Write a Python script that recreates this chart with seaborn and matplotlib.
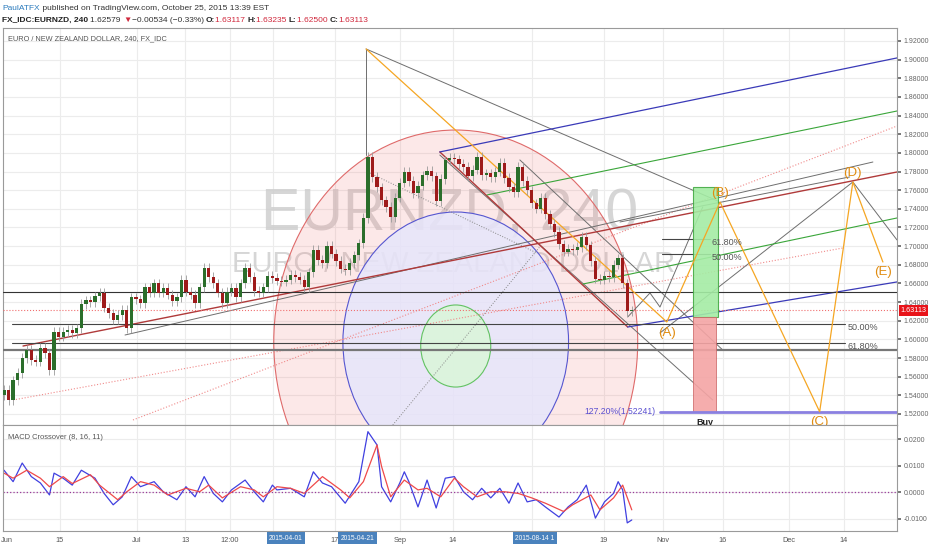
import numpy as np
import pandas as pd
import seaborn as sns
import matplotlib.pyplot as plt
from matplotlib.patches import Ellipse, Rectangle
import matplotlib.transforms as mtrans

# EURNZD 4h closes, one per bar (bar 0 = left edge)
closes = [1.546, 1.535, 1.556, 1.564, 1.580, 1.589, 1.578, 1.576, 1.591, 1.585,
          1.567, 1.608, 1.603, 1.608, 1.610, 1.607, 1.612, 1.638, 1.642, 1.640,
          1.646, 1.650, 1.634, 1.628, 1.621, 1.626, 1.632, 1.612, 1.645, 1.643,
          1.639, 1.656, 1.650, 1.660, 1.650, 1.655, 1.648, 1.641, 1.645, 1.664,
          1.651, 1.648, 1.639, 1.656, 1.677, 1.667, 1.660, 1.650, 1.639, 1.651,
          1.655, 1.645, 1.660, 1.677, 1.667, 1.652, 1.650, 1.656, 1.668, 1.666,
          1.663, 1.662, 1.664, 1.669, 1.667, 1.664, 1.656, 1.672, 1.696, 1.685,
          1.682, 1.700, 1.692, 1.684, 1.676, 1.674, 1.682, 1.690, 1.703, 1.730,
          1.796, 1.774, 1.763, 1.749, 1.742, 1.731, 1.752, 1.768, 1.780, 1.770,
          1.757, 1.765, 1.776, 1.781, 1.775, 1.748, 1.772, 1.792, 1.795, 1.793,
          1.788, 1.785, 1.775, 1.782, 1.796, 1.776, 1.778, 1.774, 1.780, 1.789,
          1.773, 1.763, 1.758, 1.785, 1.770, 1.760, 1.746, 1.740, 1.752, 1.734,
          1.724, 1.715, 1.702, 1.694, 1.697, 1.696, 1.699, 1.710, 1.701, 1.684,
          1.665, 1.664, 1.668, 1.667, 1.680, 1.687, 1.660, 1.630, 1.631]
first_open = 1.540
last_price = 1.63113

# MACD crossover (8, 16, 11)
macd_bar = [0, 2, 4, 6, 8, 10, 11, 13, 15, 17, 20, 22, 24, 26, 28, 30, 33, 35, 38, 40,
            42, 44, 46, 48, 50, 53, 55, 57, 59, 60, 63, 66, 68, 70, 72, 75, 78, 79, 80, 82,
            83, 85, 87, 88, 89, 91, 93, 95, 97, 99, 101, 103, 105, 107, 109, 111, 113, 115,
            117, 119, 122, 124, 126, 128, 130, 132, 134, 135, 136, 137, 138]
macd_val = [0.0083, 0.0040, 0.0110, 0.0059, 0.0035, -0.0010, 0.0072, 0.0053, 0.0027, 0.0083,
            0.0053, -0.0004, -0.0047, -0.0017, 0.0059, 0.0021, 0.0040, 0.0002, -0.0028, 0.0021,
            -0.0017, 0.0059, -0.0004, -0.0036, 0.0009, 0.0046, 0.0002, -0.0036, 0.0027, 0.0009,
            0.0015, -0.0017, 0.0077, 0.0035, 0.0021, -0.0041, 0.0040, 0.0134, 0.0228, 0.0178,
            0.0021, -0.0036, 0.0035, 0.0077, 0.0040, -0.0055, 0.0046, -0.0059, 0.0053, 0.0059,
            0.0002, -0.0028, 0.0015, -0.0021, 0.0015, -0.0041, 0.0035, -0.0036, -0.0028, -0.0055,
            -0.0093, -0.0055, -0.0028, 0.0027, -0.0097, -0.0036, -0.0004, 0.0040, 0.0009, -0.0115,
            -0.0104]
signal_bar = [0, 2, 5, 8, 10, 13, 15, 19, 21, 25, 27, 30, 33, 36, 40, 43, 45, 48, 52, 55,
              57, 60, 63, 66, 70, 74, 76, 79, 82, 83, 85, 88, 91, 93, 96, 99, 101, 104, 107,
              110, 113, 116, 119, 123, 125, 129, 131, 134, 136, 138]
signal_val = [0.0072, 0.0053, 0.0083, 0.0053, 0.0021, 0.0059, 0.0033, 0.0066, 0.0027, -0.0028,
              0.0002, 0.0040, 0.0027, -0.0010, 0.0015, 0.0002, 0.0027, -0.0021, 0.0021, 0.0009,
              -0.0017, 0.0021, 0.0015, -0.0004, 0.0059, 0.0009, -0.0021, 0.0040, 0.0178, 0.0097,
              -0.0017, 0.0046, 0.0009, 0.0015, -0.0017, 0.0053, 0.0021, -0.0017, 0.0002, 0.0002,
              -0.0004, -0.0021, -0.0041, -0.0072, -0.0047, -0.0010, -0.0066, -0.0021, 0.0027, -0.0066]

# time axis labels (bar positions)
tick_pos = [12.3, 29.2, 39.8, 49.7, 59.1, 72.7, 87.0, 98.7, 116.0, 131.9, 144.8, 158.0, 172.5, 184.6]
tick_lab = ['15', 'Jul', '13', '12:00', '', '17', 'Sep', '14', '', '19', 'Nov', '16', 'Dec', '14']
box_pos = [62.0, 77.7, 116.7]
box_lab = ['2015-04-01', '2015-04-21', '2015-08-14 1']

# drawings: (bar, price) anchor points
red_lines = [[(4.18, 1.5929), (196.3, 1.7795)], [(95.8, 1.8010), (137.1, 1.6133)]]
gray_lines = [[(26.6, 1.6047), (191.0, 1.7902)], [(135.4, 1.7259), (185.9, 1.7742)],
              [(95.8, 1.7977), (155.8, 1.5350)], [(113.4, 1.7924), (158.0, 1.5886)],
              [(79.6, 1.9114), (156.9, 1.7484)], [(79.6, 1.9114), (79.6, 1.7977)],
              [(144.2, 1.6069), (186.6, 1.7688), (196.3, 1.7066)],
              [(137.1, 1.6240), (142.0, 1.6498), (144.2, 1.6347), (153.6, 1.7420)]]
gray_dotted = [[(85.1, 1.5061), (117.8, 1.6994)], [(80.4, 1.7784), (117.1, 1.6927)]]
pink_dotted = [[(28.35, 1.5136), (196.3, 1.8288)], [(1.98, 1.5350), (184.4, 1.6980)]]
blue_lines = [[(95.8, 1.8010), (196.3, 1.9018)], [(137.1, 1.6133), (196.3, 1.6616)]]
green_lines = [[(106.2, 1.7549), (196.3, 1.8449)], [(127.3, 1.6594), (196.3, 1.7302)]]
wave_bar = [79.6, 145.7, 157.4, 179.3, 186.6, 193.2]
wave_price = [1.9114, 1.6187, 1.7473, 1.52241, 1.7688, 1.6830]
wave_lab = ['', '(A)', '(B)', '(C)', '(D)', '(E)']
wave_lab_dy = [0, -0.0120, 0.0100, -0.0115, 0.0100, -0.0105]

hlines_full = [1.6508]
hlines_fib = [1.6165, 1.5961]
fib_lab = ['50.00%', '61.80%']
fib_small = [1.7077, 1.6916]
fib_small_lab = ['61.80%', '50.00%']
target_price = 1.52241

# position tool (long): entry, stop, target
pos_bar = [151.4, 156.9]
pos_entry, pos_stop, pos_target = 1.6245, 1.52241, 1.7634

# circles: centre bar, centre price, half width (bars), half height (price)
circ_x = [99.3, 99.3, 99.3]
circ_y = [1.5972, 1.5972, 1.5929]
circ_rx = [40.0, 24.8, 7.7]
circ_ry = [0.2273, 0.1394, 0.0440]
circ_face = [(0.95, 0.45, 0.45, 0.16), (0.90, 0.90, 0.99, 0.85), (0.86, 0.96, 0.86, 0.92)]
circ_edge = ['#df6a6a', '#5656d0', '#62c262']

W, H = 932, 550
sns.set_theme(style='white')
plt.rcParams['font.family'] = ['Liberation Sans', 'DejaVu Sans']

fig = plt.figure(figsize=(W / 100, H / 100), dpi=100)
ax = fig.add_axes([3 / W, 125 / H, 894 / W, 397 / H])
ax2 = fig.add_axes([3 / W, 19 / H, 894 / W, 106 / H], sharex=ax)
XL = (-0.22, 196.3)

# candles
df = pd.DataFrame({'close': closes})
df['open'] = df['close'].shift(1).fillna(first_open)
df['top'] = df[['open', 'close']].max(axis=1)
df['bot'] = df[['open', 'close']].min(axis=1)
df['bar'] = np.arange(len(df))
up = df['close'] >= df['open']
ax.vlines(df['bar'], df['bot'] - 0.005, df['top'] + 0.005, color='#9a9a9a', lw=0.6, zorder=5)
ax.bar(df['bar'], (df['top'] - df['bot']).clip(lower=0.0010), bottom=df['bot'], width=0.72,
       color=np.where(up, '#2b6e2b', '#9e1b1b'), zorder=6, linewidth=0)

# watermark
ax.text(0.500, 0.491, 'EURNZD, 240', transform=ax.transAxes, fontsize=42.5, color='#cccccc',
        alpha=0.8, ha='center', va='baseline', zorder=1)
ax.text(0.504, 0.385, 'EURO / NEW ZEALAND DOLLAR', transform=ax.transAxes, fontsize=21,
        color='#cccccc', alpha=0.8, ha='center', va='baseline', zorder=1)

for cx, cy, rx, ry, fc, ec in zip(circ_x, circ_y, circ_rx, circ_ry, circ_face, circ_edge):
    ax.add_patch(Ellipse((cx, cy), 2 * rx, 2 * ry, facecolor=fc, edgecolor=ec, lw=0.8, zorder=2))


def draw(segs, **kw):
    for s in segs:
        xs, ys = zip(*s)
        ax.plot(xs, ys, zorder=3, **kw)


draw(pink_dotted, color='#f08a8a', lw=0.8, ls=':')
draw(gray_dotted, color='#888888', lw=0.7, ls=':')
draw(gray_lines, color='#6e6e6e', lw=0.7)
draw(red_lines, color='#b03a3a', lw=1.0)
draw(blue_lines, color='#3a3ab8', lw=0.9)
draw(green_lines, color='#3aa63a', lw=0.8)

for p in hlines_full:
    ax.axhline(p, color='#333333', lw=0.8, zorder=3)
ax.axhline(1.5886, color='#777777', lw=1.6, zorder=3)
ax.axhline(last_price, color='#f07070', lw=0.8, ls=':', zorder=3)
for p, lab in zip(hlines_fib, fib_lab):
    ax.plot([1.76, 184.8], [p, p], color='#444444', lw=0.8, zorder=3)
    ax.text(185.5, p - 0.0042, lab, fontsize=6.5, color='#555555', va='center', zorder=7)
for p, lab in zip(fib_small, fib_small_lab):
    ax.plot([144.6, 155.2], [p, p], color='#444444', lw=0.8, zorder=3)
    ax.text(155.6, p - 0.0035, lab, fontsize=6.5, color='#555555', va='center', zorder=7)

# position tool
ax.add_patch(Rectangle((pos_bar[0], pos_entry), pos_bar[1] - pos_bar[0], pos_target - pos_entry,
                       facecolor='#a4eca4', edgecolor='#44aa44', lw=0.8, zorder=4, alpha=0.9))
ax.add_patch(Rectangle((pos_bar[0], pos_stop), pos_bar[1] - pos_bar[0] - 0.4, pos_entry - 0.001 - pos_stop,
                       facecolor='#f4a4a4', edgecolor='#cc6666', lw=0.6, zorder=4, alpha=0.9))
ax.text(np.mean(pos_bar), 1.5105, 'Buy', fontsize=6.5, fontweight='bold', color='#222222',
        ha='center', va='center', zorder=8, clip_on=True)

# 127.2% target
ax.plot([144.2, XL[1]], [target_price, target_price], color='#8a80e0', lw=2, zorder=4)
ax.text(143.3, target_price, '127.20%(1.52241)', fontsize=6.2, color='#5a4fd0',
        ha='right', va='center', zorder=7)

# ABCDE wave
ax.plot(wave_bar, wave_price, color='#f5a623', lw=0.9, zorder=4)
for bx, py, lab, dy in zip(wave_bar, wave_price, wave_lab, wave_lab_dy):
    if lab:
        ax.text(bx, py + dy, lab, fontsize=9.5, color='#e08c10', ha='center', va='center',
                zorder=8, clip_on=True)

ax.set_xlim(*XL)
ax.set_ylim(1.5082, 1.9339)
ax.yaxis.tick_right()
ax.set_yticks(np.arange(1.52, 1.921, 0.02))
ax.set_yticklabels([f'{v:.5f}' for v in np.arange(1.52, 1.921, 0.02)])
ax.tick_params(axis='y', labelsize=5, colors='#666666', length=3, pad=2)
ax.tick_params(axis='x', labelbottom=False, length=0)
ax.grid(True, color='#ececec', lw=0.8)
for s in ax.spines.values():
    s.set_color('#9a9a9a')
    s.set_linewidth(0.8)
tr = mtrans.blended_transform_factory(ax.transAxes, ax.transData)
ax.text(1.004, last_price, '1.63113', transform=tr, fontsize=5.2, color='white', va='center',
        ha='left', bbox=dict(boxstyle='square,pad=0.25', fc='#e8141a', ec='none'), zorder=10,
        clip_on=False)
ax.text(0.006, 0.972, 'EURO / NEW ZEALAND DOLLAR, 240, FX_IDC', transform=ax.transAxes,
        fontsize=5.3, color='#555555', va='center')

# MACD panel
sns.lineplot(x=macd_bar, y=macd_val, ax=ax2, color='#4040e0', lw=0.9)
sns.lineplot(x=signal_bar, y=signal_val, ax=ax2, color='#ef4a4a', lw=0.9)
ax2.axhline(0, color='#9a3a9a', lw=0.9, ls=':')
ax2.set_ylim(-0.01455, 0.0253)
ax2.set_xlim(*XL)
ax2.yaxis.tick_right()
ax2.set_yticks([-0.01, 0.0, 0.01, 0.02])
ax2.set_yticklabels(['-0.0100', '0.0000', '0.0100', '0.0200'])
ax2.tick_params(axis='y', labelsize=5, colors='#666666', length=3, pad=2)
ax2.set_xticks(tick_pos)
ax2.set_xticklabels(tick_lab)
ax2.tick_params(axis='x', labelsize=5.3, colors='#555555', length=0, pad=4)
ax2.grid(True, color='#ececec', lw=0.8)
ax2.set_xlabel('')
ax2.set_ylabel('')
for s in ax2.spines.values():
    s.set_color('#9a9a9a')
    s.set_linewidth(0.8)
ax2.text(0.006, 0.88, 'MACD Crossover (8, 16, 11)', transform=ax2.transAxes, fontsize=5.4,
         color='#555555', va='center')
trb = mtrans.blended_transform_factory(ax2.transData, ax2.transAxes)
for bx, lab in zip(box_pos, box_lab):
    ax2.text(bx, -0.068, lab, transform=trb, fontsize=4.8, color='white', ha='center',
             va='center', clip_on=False,
             bbox=dict(boxstyle='square,pad=0.35', fc='#4a82bd', ec='none'))
fig.text(1 / W, 1 - 540 / H, 'Jun', fontsize=5.3, color='#555555', ha='left', va='center')

# header lines
rend = fig.canvas.get_renderer()


def chain(x, y, parts, fs):
    for s, col, wt in parts:
        t = fig.text(x / W, 1 - y / H, s, color=col, fontweight=wt, fontsize=fs,
                     ha='left', va='center')
        x += t.get_window_extent(rend).width


chain(2, 8, [('PaulATFX', '#2b7bbd', 'normal'),
             (' published on TradingView.com, October 25, 2015 13:39 EST', '#333333', 'normal')], 6.0)
RED = '#d0283c'
chain(2, 20, [('FX_IDC:EURNZD, 240 ', '#222222', 'bold'), ('1.62579 ', '#333333', 'normal'),
              ('\u25bc', RED, 'normal'), ('\u22120.00534 (\u22120.33%) ', '#333333', 'normal'),
              ('O:', '#222222', 'bold'), ('1.63117 ', RED, 'normal'),
              ('H:', '#222222', 'bold'), ('1.63235 ', RED, 'normal'),
              ('L:', '#222222', 'bold'), ('1.62500 ', RED, 'normal'),
              ('C:', '#222222', 'bold'), ('1.63113', RED, 'normal')], 6.0)

fig.savefig('out.png', dpi=100)
